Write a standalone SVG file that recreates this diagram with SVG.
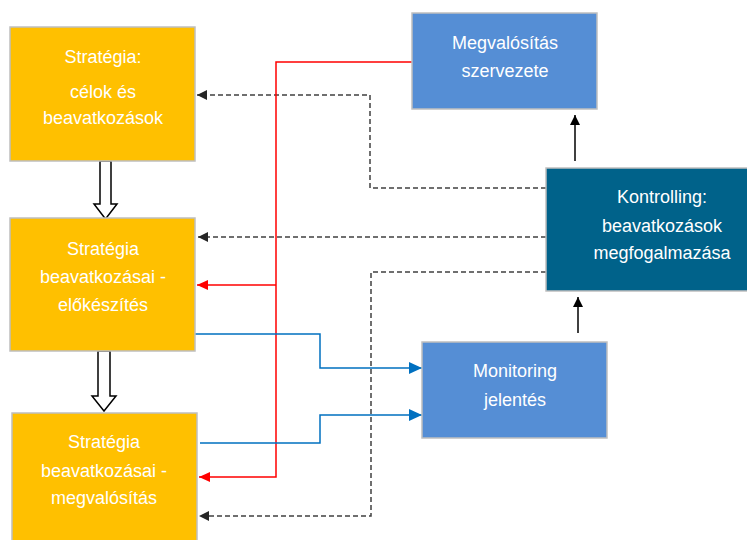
<svg xmlns="http://www.w3.org/2000/svg" width="747" height="540" viewBox="0 0 747 540">
<style>
.box{stroke:#BFBFBF;stroke-width:1.5}
.org{fill:#FFC000}
.blu{fill:#558ED5}
.teal{fill:#00628A}
.t{font-family:"Liberation Sans",Arial,sans-serif;font-size:18px;fill:#FFFFFF;text-anchor:middle}
.dash{fill:none;stroke:#404040;stroke-width:1.5;stroke-dasharray:5 3}
.red{fill:none;stroke:#FF0000;stroke-width:1.5}
.bl{fill:none;stroke:#0070C0;stroke-width:1.5}
.blk{fill:none;stroke:#000000;stroke-width:1.5}
.hollow{fill:#FFFFFF;stroke:#000000;stroke-width:1.5}
</style>
<defs>
<marker id="mDash" markerUnits="userSpaceOnUse" markerWidth="11" markerHeight="11" refX="10" refY="5" orient="auto"><path d="M0,0 L10,5 L0,10 z" fill="#262626"/></marker>
<marker id="mRed" markerUnits="userSpaceOnUse" markerWidth="12" markerHeight="11" refX="11" refY="5" orient="auto"><path d="M0,0 L11,5 L0,10 z" fill="#FF0000"/></marker>
<marker id="mBlue" markerUnits="userSpaceOnUse" markerWidth="14" markerHeight="13" refX="13" refY="6" orient="auto"><path d="M0,0 L13,6 L0,12 z" fill="#0070C0"/></marker>
<marker id="mBlk" markerUnits="userSpaceOnUse" markerWidth="11" markerHeight="11" refX="10" refY="5" orient="auto"><path d="M0,0 L10,5 L0,10 z" fill="#000000"/></marker>
</defs>
<rect width="747" height="540" fill="#FFFFFF"/>

<g id="connectors">
<path class="dash" d="M546,188 H370 V95 H197" marker-end="url(#mDash)"/>
<path class="dash" d="M546,237 H198" marker-end="url(#mDash)"/>
<path class="dash" d="M546,272 H371 V516 H199" marker-end="url(#mDash)"/>
<path class="red" d="M412,62 H276 V477 H199" marker-end="url(#mRed)"/>
<path class="red" d="M276,285 H197" marker-end="url(#mRed)"/>
<path class="bl" d="M195,334 H320 V368 H422" marker-end="url(#mBlue)"/>
<path class="bl" d="M200,443 H320 V415 H422" marker-end="url(#mBlue)"/>
<path class="blk" d="M575,161 V115" marker-end="url(#mBlk)"/>
<path class="blk" d="M578,333 V297" marker-end="url(#mBlk)"/>
<polygon class="hollow" points="100,161 111,161 111,204 117,204 105.5,219 94,204 100,204"/>
<polygon class="hollow" points="98,351 110,351 110,396 116,396 104,411 92,396 98,396"/>
</g>

<g id="strategia-celok">
<rect class="box org" x="10" y="27" width="185" height="134"/>
<text class="t" x="103" y="63">Stratégia:</text>
<text class="t" x="103" y="98">célok és</text>
<text class="t" x="103" y="124">beavatkozások</text>
</g>

<g id="strategia-elokeszites">
<rect class="box org" x="10" y="218" width="185" height="133"/>
<text class="t" x="103" y="255">Stratégia</text>
<text class="t" x="103" y="283">beavatkozásai -</text>
<text class="t" x="103" y="311">előkészítés</text>
</g>

<g id="strategia-megvalositas">
<rect class="box org" x="12" y="413" width="185" height="135"/>
<text class="t" x="104" y="448">Stratégia</text>
<text class="t" x="104" y="477">beavatkozásai -</text>
<text class="t" x="104" y="504">megvalósítás</text>
</g>

<g id="megvalositas-szervezete">
<rect class="box blu" x="412" y="13" width="185" height="96"/>
<text class="t" x="505" y="49">Megvalósítás</text>
<text class="t" x="505" y="77">szervezete</text>
</g>

<g id="kontrolling">
<rect class="box teal" x="546" y="168" width="240" height="123"/>
<text class="t" x="662" y="203">Kontrolling:</text>
<text class="t" x="662" y="232">beavatkozások</text>
<text class="t" x="662" y="259">megfogalmazása</text>
</g>

<g id="monitoring">
<rect class="box blu" x="422" y="342" width="185" height="96"/>
<text class="t" x="515" y="377">Monitoring</text>
<text class="t" x="515" y="406">jelentés</text>
</g>
</svg>
